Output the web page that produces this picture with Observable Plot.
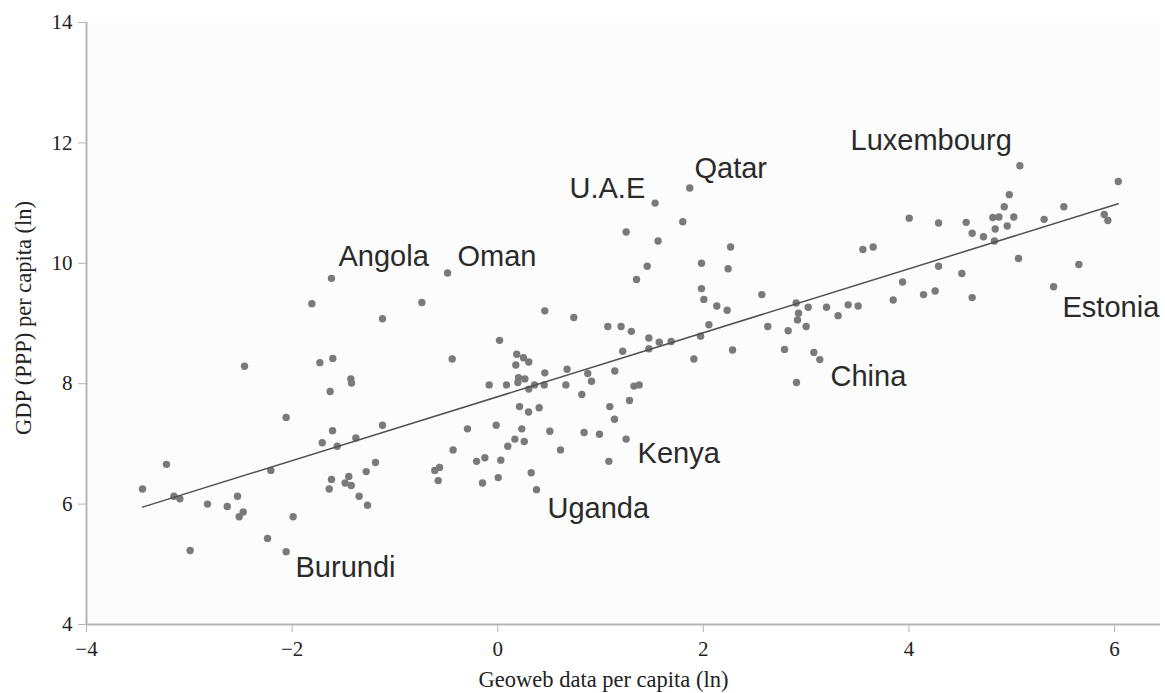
<!DOCTYPE html>
<html><head><meta charset="utf-8">
<script src="https://cdn.jsdelivr.net/npm/d3@7"></script>
<script src="https://cdn.jsdelivr.net/npm/@observablehq/plot@0.6"></script>
<style>body{margin:0;background:#fff}</style>
</head><body><div id="chart"></div>
<script>
const geoweb = [
 -1.617,-1.808,-1.121,-2.463,-1.73,-1.604,-1.429,-1.422,-1.63,-2.058,-1.121,-1.607,-1.707,-1.561,-1.38,-3.222,-2.207,-1.189,-1.279,-3.455,
 -1.617,-1.449,-1.639,-1.484,-1.425,-1.348,-1.267,-3.15,-3.092,-2.823,-2.631,-2.531,-2.476,-2.515,-1.99,-2.992,-2.239,-2.058,
 -0.488,-0.738,1.454,1.35,0.458,0.74,1.071,1.20,1.30,0.018,1.47,1.571,1.687,1.216,1.47,1.908,-0.443,0.185,0.25,0.302,0.176,0.458,
 0.675,0.876,1.139,0.202,0.264,0.196,-0.083,0.086,0.302,0.358,0.452,0.663,0.912,1.325,1.376,0.818,1.282,0.212,0.403,0.30,1.09,1.136,
 -0.294,-0.015,0.234,0.507,0.84,0.99,1.249,0.167,0.258,0.098,-0.434,0.611,-0.206,-0.125,0.03,1.081,-0.612,-0.566,-0.579,-0.148,0.005,0.326,0.377,
 1.868,1.531,1.80,1.249,1.56,2.265,1.982,2.241,1.982,2.005,2.131,2.232,2.569,2.903,3.02,3.198,3.311,2.926,2.916,2.627,2.825,3.0,2.054,1.973,2.284,
 2.79,3.075,3.133,2.906,
 5.079,6.036,4.976,4.927,5.507,4.816,4.875,5.02,5.315,4.003,4.288,4.557,4.839,4.956,4.615,4.725,4.832,5.90,5.935,3.552,3.652,5.066,5.653,4.288,
 4.515,3.938,5.407,4.255,4.142,3.847,4.615,3.409,3.506
];
const gdp = [
 9.75,9.33,9.08,8.29,8.35,8.42,8.08,8.01,7.87,7.44,7.31,7.22,7.02,6.96,7.10,6.66,6.56,6.69,6.54,6.25,
 6.41,6.46,6.25,6.35,6.31,6.13,5.98,6.13,6.09,6.00,5.96,6.13,5.87,5.79,5.79,5.23,5.43,5.21,
 9.84,9.35,9.95,9.73,9.21,9.10,8.95,8.95,8.87,8.72,8.76,8.69,8.70,8.54,8.58,8.41,8.41,8.49,8.43,8.36,8.31,8.18,
 8.24,8.17,8.21,8.10,8.08,8.02,7.98,7.98,7.91,7.98,7.98,7.98,8.04,7.96,7.98,7.82,7.72,7.62,7.60,7.53,7.62,7.41,
 7.25,7.31,7.25,7.21,7.19,7.16,7.08,7.08,7.04,6.96,6.90,6.90,6.71,6.77,6.73,6.71,6.56,6.61,6.39,6.35,6.44,6.52,6.24,
 11.25,11.00,10.69,10.52,10.37,10.27,10.00,9.91,9.58,9.40,9.29,9.22,9.48,9.34,9.27,9.27,9.13,9.17,9.06,8.95,8.88,8.95,8.98,8.79,8.56,
 8.57,8.52,8.40,8.02,
 11.62,11.36,11.14,10.94,10.94,10.76,10.77,10.77,10.73,10.75,10.67,10.68,10.57,10.62,10.50,10.44,10.37,10.81,10.71,10.23,10.27,10.08,9.98,9.95,
 9.83,9.69,9.61,9.54,9.48,9.39,9.43,9.31,9.29
];
const fitX = [-3.455, 6.036];
const fitY = [5.95, 10.99];
const labelNames = ["Angola","Oman","U.A.E","Qatar","Luxembourg","Estonia","China","Kenya","Uganda","Burundi"];
const labelX = [-1.549,-0.391,0.698,1.914,3.432,5.494,3.237,1.360,0.484,-1.967];
const labelY = [9.947,9.947,11.093,11.425,11.89,9.116,7.970,6.691,5.777,4.797];
const xTicks = [-4,-2,0,2,4,6];
const yTicks = [4,6,8,10,12,14];
const xTitle = "Geoweb data per capita (ln)";
const yTitle = "GDP (PPP) per capita (ln)";

const points = geoweb.map((x, i) => ({x, y: gdp[i]}));
const fit = fitX.map((x, i) => ({x, y: fitY[i]}));
const labels = labelNames.map((name, i) => ({name, x: labelX[i], y: labelY[i]}));
const serif = "'Liberation Serif', 'Times New Roman', serif";
const sans = "'Liberation Sans', Arial, Helvetica, sans-serif";

const chart = Plot.plot({
  width: 1165, height: 693,
  marginLeft: 86, marginRight: 5, marginTop: 22, marginBottom: 69,
  x: {domain: [-4, 6.447]},
  y: {domain: [4, 14]},
  style: {background: "transparent"},
  marks: [
    Plot.frame({fill: "#fcfcfc", stroke: null}),
    Plot.axisX({ticks: xTicks, tickFormat: d => d < 0 ? "\u2212" + Math.abs(d) : String(d), tickSize: 8, tickPadding: 9,
      fontSize: 21, fontFamily: serif, stroke: "#b5b5b5", fill: "#222", label: null}),
    Plot.axisY({ticks: yTicks, tickSize: 8, tickPadding: 6,
      fontSize: 21, fontFamily: serif, stroke: "#b5b5b5", fill: "#222", label: null}),
    Plot.ruleY([4], {stroke: "#b5b5b5", strokeWidth: 2}),
    Plot.ruleX([-4], {stroke: "#b5b5b5", strokeWidth: 2}),
    Plot.dot(points, {x: "x", y: "y", r: 3.7, fill: "#7a7a7a", stroke: null}),
    Plot.line(fit, {x: "x", y: "y", stroke: "#505050", strokeWidth: 1.5}),
    Plot.text(labels, {x: "x", y: "y", text: "name", textAnchor: "start", lineAnchor: "bottom",
      fontSize: 29, fontFamily: sans, fill: "#2a2a2a"}),
    Plot.text([xTitle], {frameAnchor: "bottom", textAnchor: "middle", lineAnchor: "bottom", dx: -20, dy: 62,
      fontSize: 22.5, fontFamily: serif, fill: "#222"}),
    Plot.text([yTitle], {frameAnchor: "left", textAnchor: "middle", lineAnchor: "bottom", rotate: -90, dx: -56, dy: -5.5,
      fontSize: 22.5, fontFamily: serif, fill: "#222"})
  ]
});
document.getElementById("chart").append(chart);
</script>
</body></html>
